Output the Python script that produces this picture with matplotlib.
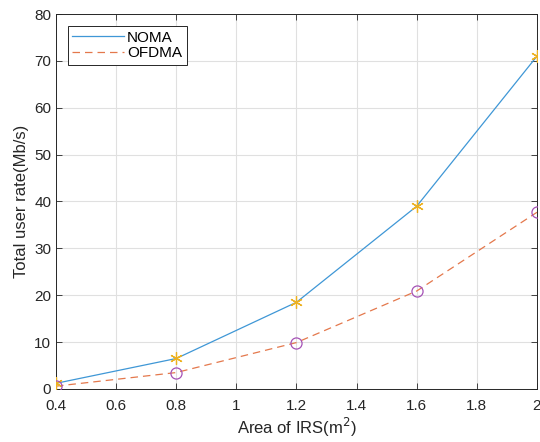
import numpy as np
import matplotlib
matplotlib.use("Agg")
import matplotlib.pyplot as plt

# Data
area = [0.4, 0.8, 1.2, 1.6, 2.0]
noma = [1.2, 6.5, 18.5, 39.0, 71.0]
ofdma = [0.6, 3.5, 9.9, 20.9, 37.7]

xticks = [0.4, 0.6, 0.8, 1.0, 1.2, 1.4, 1.6, 1.8, 2.0]
xticklabels = ['0.4', '0.6', '0.8', '1', '1.2', '1.4', '1.6', '1.8', '2']
yticks = [0, 10, 20, 30, 40, 50, 60, 70, 80]

plt.rcParams['font.family'] = ['Liberation Sans', 'DejaVu Sans']

fig = plt.figure(figsize=(5.4, 4.42), dpi=100)
ax = fig.add_axes([0.1037, 0.120, 0.8907, 0.8483])

ax.plot(area, noma, '-', color='#3f97d6', linewidth=0.9, label='NOMA', zorder=3)
ax.plot(area, ofdma, '--', color='#e4784c', linewidth=0.9, dashes=(6, 4),
        label='OFDMA', zorder=3)
# MATLAB-style asterisk and open circle markers
ax.plot(area, noma, marker=(6, 2, 0), color='#EDB120', markersize=9,
        markeredgewidth=0.9, linestyle='none', zorder=4)
ax.plot(area, ofdma, 'o', markerfacecolor='none', markeredgecolor='#a552b6',
        markersize=8, markeredgewidth=0.9, linestyle='none', zorder=4)

ax.set_xlim(0.4, 2.0)
ax.set_ylim(0, 80)
ax.set_xticks(xticks)
ax.set_xticklabels(xticklabels)
ax.set_yticks(yticks)

ax.grid(True, color='#e0e0e0', linewidth=0.8)
ax.set_axisbelow(True)
ax.tick_params(direction='in', top=True, right=True, length=4, width=0.6,
               colors='#262626', labelsize=11)
ax.tick_params(axis='x', pad=7)
for s in ax.spines.values():
    s.set_color('#262626')
    s.set_linewidth(0.7)

ax.set_xlabel('Area of IRS(m$^2$)', fontsize=12, color='#262626', labelpad=2)
ax.set_ylabel('Total user rate(Mb/s)', fontsize=12, color='#262626')

leg = ax.legend(loc='upper left', bbox_to_anchor=(0.024, 0.968), fontsize=11,
                fancybox=False, edgecolor='#262626', framealpha=1,
                handlelength=3.4, handletextpad=0.2, borderpad=0.3,
                labelspacing=0.1, borderaxespad=0)
leg.get_frame().set_linewidth(0.7)

fig.savefig('out.png', dpi=100)
